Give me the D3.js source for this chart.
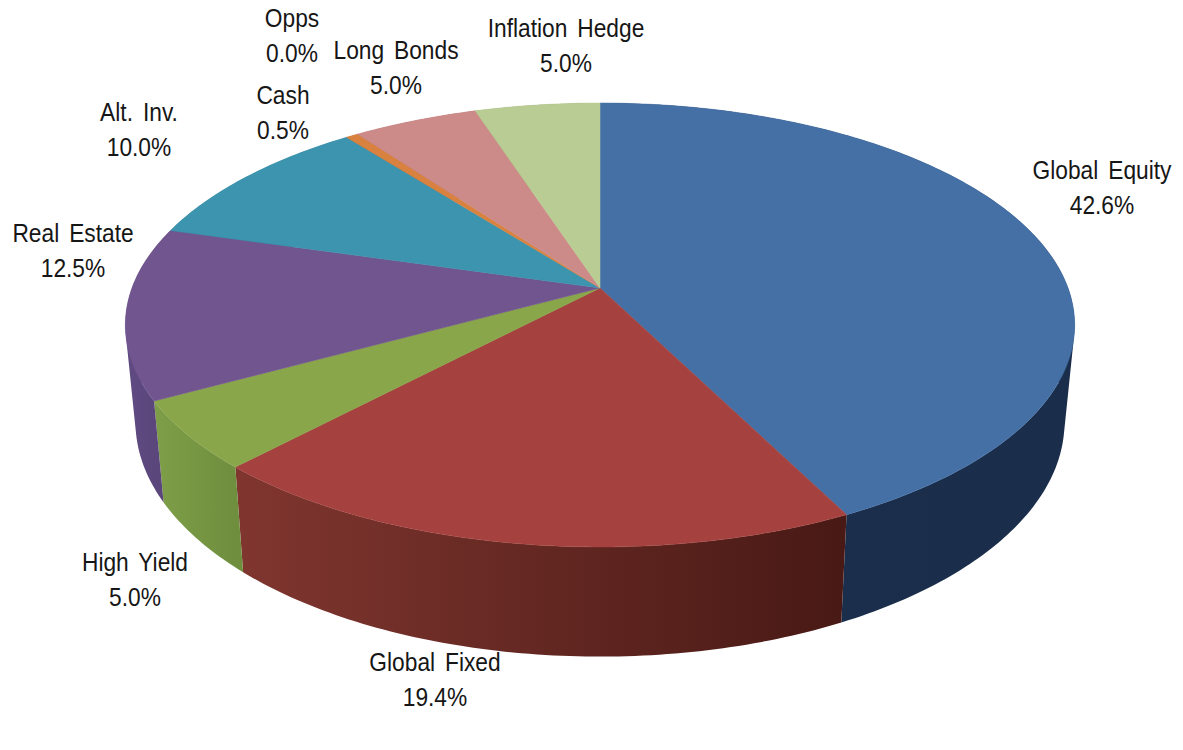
<!DOCTYPE html>
<html>

<head>
    <meta charset="utf-8">
    <title>Asset allocation pie</title>
    <script src="https://d3js.org/d3.v7.min.js"></script>
    <style>
        html, body { margin: 0; padding: 0; background: #fff; }
        svg { display: block; }
        text { font-family: "Liberation Sans", Arial, sans-serif; font-size: 25px; fill: #161616; text-anchor: middle; word-spacing: 4px; }
    </style>
</head>

<body>
    <div id="chart"></div>

    <script>
        // chart values
        const categories = ["Global Equity", "Global Fixed", "High Yield", "Real Estate", "Alt. Inv.", "Cash", "Opps", "Long Bonds", "Inflation Hedge"];
        const values = [42.6, 19.4, 5.0, 12.5, 10.0, 0.5, 0.0, 5.0, 5.0];

        // colours, same order as categories
        const topColors = ["#4570a6", "#a5423f", "#89a64b", "#71558f", "#3c94ae", "#d9823f", "#d9823f", "#cc8b89", "#b9cc93"];
        const wallLeft = ["#1b2f4d", "#80362f", "#7e9e48", "#5f4a82", "#2f7488", "#a86530", "#a86530", "#9f6b6a", "#909f72"];
        const wallRight = ["#1a2e4b", "#481915", "#6f8f3f", "#5a4579", "#2f7488", "#a86530", "#a86530", "#9f6b6a", "#909f72"];

        // label anchors (centre x, first baseline), same order as categories
        const labelX = [1102, 435, 135, 73, 139, 283, 292, 396, 566];
        const labelY = [179, 671, 571, 242, 121, 104, 27, 59, 37];

        const width = 1183, height = 750;
        const lineGap = 35.5;

        // perspective of the disc: k is foreshortening, top and bottom planes differ a bit
        const k = 1 / 6;
        const topPlane = { x0: 600, y0: 288, b: 468, a: 215.8 };
        const bottomPlane = { x0: 600, y0: 383, b: 458, a: 228 };

        function project(plane, angle) {
            const u = Math.sin(angle), s = -Math.cos(angle);
            const w = 1 - k * s;
            return [plane.x0 + plane.b * u / w, plane.y0 + plane.a * s / w];
        }

        function arcAngles(a0, a1) {
            const n = Math.max(2, Math.ceil((a1 - a0) / 0.015));
            return d3.range(n + 1).map(i => a0 + (a1 - a0) * i / n);
        }

        const svg = d3.select("#chart")
            .append("svg")
            .attr("width", width)
            .attr("height", height);

        const defs = svg.append("defs");
        const line = d3.line();

        const pie = d3.pie().sort(null).value(d => d);
        const slices = pie(values).map((d, i) => ({ ...d, i })).filter(d => d.value > 0);

        // one wall quad, always wound the same way so nonzero fill leaves no holes
        function wallQuad([a0, a1]) {
            const quad = [
                project(topPlane, a0), project(topPlane, a1),
                project(bottomPlane, a1), project(bottomPlane, a0)
            ];
            return line(d3.polygonArea(quad) < 0 ? quad.reverse() : quad) + "Z";
        }

        // walls first, the top faces hide whatever is at the back
        slices.forEach(d => {
            const angles = arcAngles(d.startAngle, d.endAngle);
            const xs = angles.map(a => project(topPlane, a)[0]);

            const grad = defs.append("linearGradient")
                .attr("id", "wall" + d.i)
                .attr("gradientUnits", "userSpaceOnUse")
                .attr("x1", d3.min(xs)).attr("x2", d3.max(xs))
                .attr("y1", 0).attr("y2", 0);
            grad.append("stop").attr("offset", 0).attr("stop-color", wallLeft[d.i]);
            grad.append("stop").attr("offset", 1).attr("stop-color", wallRight[d.i]);

            svg.append("path")
                .attr("d", d3.pairs(angles).map(wallQuad).join(""))
                .attr("fill-rule", "nonzero")
                .attr("fill", `url(#wall${d.i})`);
        });

        // top faces
        svg.append("g")
            .selectAll("path")
            .data(slices)
            .join("path")
            .attr("d", d => line([[topPlane.x0, topPlane.y0]].concat(arcAngles(d.startAngle, d.endAngle).map(a => project(topPlane, a)))) + "Z")
            .attr("fill", d => topColors[d.i])
            .attr("stroke", d => topColors[d.i])
            .attr("stroke-width", 0.5);

        // labels, the source text is squeezed horizontally
        const labels = svg.append("g")
            .selectAll("g")
            .data(categories)
            .join("g")
            .attr("transform", (d, i) => `translate(${labelX[i]},${labelY[i]}) scale(0.91,1)`);

        labels.append("text").text(d => d);
        labels.append("text")
            .attr("y", lineGap)
            .text((d, i) => values[i].toFixed(1) + "%");
    </script>
</body>

</html>
